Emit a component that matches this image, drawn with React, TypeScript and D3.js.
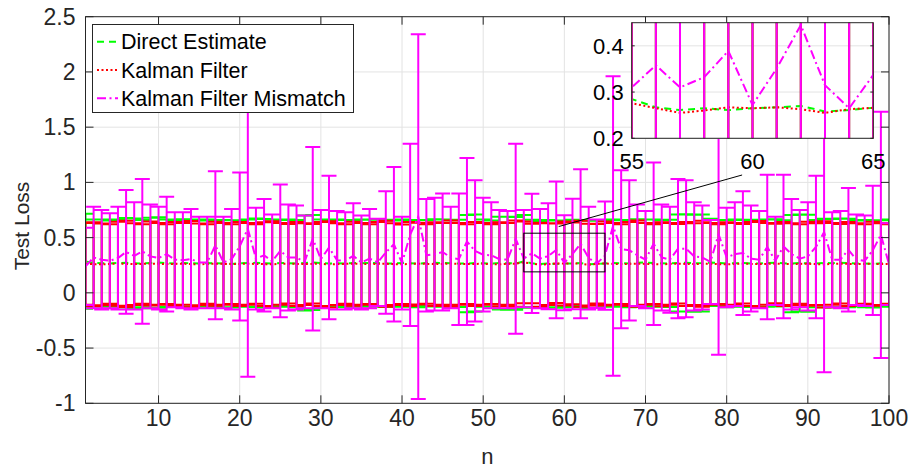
import React from "react";
import * as d3 from "d3";

// ---------------- data ----------------
const nValues = d3.range(1, 101);

const directMean = [
  0.285, 0.27, 0.268, 0.266, 0.27, 0.272, 0.268, 0.265, 0.27, 0.274,
  0.268, 0.266, 0.271, 0.268, 0.265, 0.27, 0.268, 0.265, 0.262, 0.268,
  0.27, 0.272, 0.268, 0.265, 0.27, 0.268, 0.265, 0.27, 0.275, 0.27,
  0.266, 0.268, 0.265, 0.27, 0.268, 0.272, 0.27, 0.266, 0.265, 0.27,
  0.268, 0.265, 0.27, 0.272, 0.27, 0.268, 0.266, 0.265, 0.27, 0.268,
  0.265, 0.27, 0.268, 0.266, 0.285, 0.267, 0.261, 0.265, 0.261, 0.265,
  0.267, 0.27, 0.258, 0.261, 0.266, 0.27, 0.268, 0.265, 0.272, 0.275,
  0.27, 0.268, 0.266, 0.27, 0.272, 0.268, 0.27, 0.275, 0.27, 0.265,
  0.268, 0.27, 0.266, 0.265, 0.27, 0.272, 0.268, 0.265, 0.27, 0.268,
  0.265, 0.27, 0.268, 0.272, 0.27, 0.266, 0.265, 0.262, 0.268, 0.27,
];
const directErr = [
  0.43, 0.395, 0.395, 0.39, 0.395, 0.405, 0.405, 0.395, 0.41, 0.41,
  0.395, 0.39, 0.395, 0.395, 0.39, 0.395, 0.39, 0.395, 0.395, 0.39,
  0.395, 0.4, 0.4, 0.4, 0.39, 0.395, 0.395, 0.43, 0.43, 0.395,
  0.39, 0.395, 0.395, 0.39, 0.395, 0.39, 0.395, 0.395, 0.39, 0.395,
  0.39, 0.395, 0.39, 0.395, 0.395, 0.39, 0.395, 0.44, 0.44, 0.395,
  0.39, 0.42, 0.42, 0.42, 0.42, 0.395, 0.39, 0.395, 0.395, 0.39,
  0.395, 0.39, 0.395, 0.395, 0.39, 0.395, 0.39, 0.395, 0.395, 0.39,
  0.395, 0.39, 0.395, 0.44, 0.44, 0.44, 0.44, 0.395, 0.39, 0.395,
  0.395, 0.39, 0.395, 0.39, 0.395, 0.395, 0.39, 0.44, 0.44, 0.44,
  0.395, 0.4, 0.4, 0.4, 0.4, 0.39, 0.395, 0.395, 0.39, 0.395,
];

const kalmanMean = [
  0.262, 0.26, 0.258, 0.262, 0.264, 0.262, 0.26, 0.262, 0.265, 0.262,
  0.26, 0.262, 0.263, 0.26, 0.258, 0.262, 0.264, 0.262, 0.26, 0.262,
  0.263, 0.262, 0.26, 0.258, 0.262, 0.264, 0.262, 0.26, 0.263, 0.262,
  0.258, 0.26, 0.262, 0.264, 0.262, 0.26, 0.262, 0.263, 0.26, 0.258,
  0.262, 0.264, 0.262, 0.26, 0.262, 0.265, 0.262, 0.26, 0.262, 0.263,
  0.26, 0.258, 0.262, 0.264, 0.276, 0.265, 0.255, 0.26, 0.267, 0.265,
  0.267, 0.263, 0.255, 0.263, 0.266, 0.262, 0.26, 0.262, 0.264, 0.262,
  0.26, 0.258, 0.262, 0.264, 0.262, 0.26, 0.263, 0.262, 0.26, 0.258,
  0.262, 0.264, 0.262, 0.26, 0.262, 0.265, 0.262, 0.26, 0.262, 0.263,
  0.26, 0.258, 0.262, 0.264, 0.262, 0.26, 0.262, 0.263, 0.26, 0.262,
];
const kalmanErr = [
  0.37, 0.38, 0.37, 0.36, 0.38, 0.39, 0.37, 0.36, 0.38, 0.37,
  0.36, 0.38, 0.37, 0.39, 0.37, 0.36, 0.38, 0.37, 0.36, 0.38,
  0.37, 0.36, 0.38, 0.39, 0.37, 0.36, 0.38, 0.37, 0.36, 0.38,
  0.39, 0.37, 0.36, 0.38, 0.37, 0.36, 0.38, 0.39, 0.37, 0.36,
  0.38, 0.37, 0.36, 0.38, 0.37, 0.39, 0.37, 0.36, 0.38, 0.37,
  0.36, 0.38, 0.37, 0.39, 0.37, 0.36, 0.38, 0.37, 0.36, 0.38,
  0.37, 0.39, 0.37, 0.36, 0.38, 0.37, 0.36, 0.38, 0.39, 0.37,
  0.36, 0.38, 0.37, 0.36, 0.38, 0.37, 0.39, 0.37, 0.36, 0.38,
  0.37, 0.36, 0.38, 0.39, 0.37, 0.36, 0.38, 0.37, 0.36, 0.38,
  0.37, 0.39, 0.37, 0.36, 0.38, 0.37, 0.36, 0.38, 0.37, 0.36,
];

const mismatchMean = [
  0.24, 0.32, 0.3, 0.29, 0.315, 0.37, 0.335, 0.375, 0.33, 0.315,
  0.35, 0.3, 0.295, 0.305, 0.275, 0.275, 0.43, 0.275, 0.305, 0.42,
  0.58, 0.31, 0.34, 0.285, 0.38, 0.32, 0.32, 0.28, 0.49, 0.305,
  0.41, 0.295, 0.29, 0.335, 0.275, 0.31, 0.275, 0.365, 0.44, 0.27,
  0.525, 0.69, 0.34, 0.35, 0.37, 0.32, 0.305, 0.465, 0.38, 0.345,
  0.34, 0.305, 0.3, 0.49, 0.31, 0.358, 0.31, 0.332, 0.389, 0.272,
  0.351, 0.445, 0.315, 0.265, 0.337, 0.605, 0.395, 0.385, 0.34, 0.3,
  0.445, 0.32, 0.3, 0.4, 0.4, 0.33, 0.32, 0.28, 0.53, 0.32,
  0.35, 0.36, 0.31, 0.3, 0.415, 0.29, 0.42, 0.35, 0.31, 0.33,
  0.415, 0.55, 0.3, 0.3, 0.39, 0.3, 0.29, 0.385, 0.525, 0.26,
];
const mismatchErr = [
  0.35, 0.46, 0.45, 0.43, 0.465, 0.56, 0.485, 0.655, 0.47, 0.465,
  0.52, 0.43, 0.435, 0.455, 0.415, 0.415, 0.67, 0.415, 0.455, 0.67,
  1.34, 0.46, 0.51, 0.425, 0.6, 0.48, 0.47, 0.42, 0.83, 0.445,
  0.65, 0.445, 0.44, 0.475, 0.425, 0.45, 0.395, 0.555, 0.7, 0.42,
  0.825, 1.65, 0.51, 0.51, 0.53, 0.46, 0.595, 0.755, 0.64, 0.515,
  0.48, 0.445, 0.44, 0.86, 0.44, 0.54, 0.45, 0.48, 0.62, 0.43,
  0.5, 0.675, 0.465, 0.4, 0.49, 1.355, 0.715, 0.635, 0.46, 0.44,
  0.735, 0.48, 0.48, 0.63, 0.62, 0.49, 0.47, 0.38, 1.09, 0.45,
  0.47, 0.56, 0.48, 0.44, 0.655, 0.4, 0.65, 0.5, 0.44, 0.49,
  0.645, 1.27, 0.43, 0.44, 0.56, 0.41, 0.41, 0.585, 1.115, 0.37,
];

const seriesNames = ["Direct Estimate", "Kalman Filter", "Kalman Filter Mismatch"];
const xTicks = [10, 20, 30, 40, 50, 60, 70, 80, 90, 100];
const yTicks = [-1, -0.5, 0, 0.5, 1, 1.5, 2, 2.5];
const yTickLabels = ["-1", "-0.5", "0", "0.5", "1", "1.5", "2", "2.5"];
const insetXTicks = [55, 60, 65];
const insetYTicks = [0.2, 0.3, 0.4];
const insetYTickLabels = ["0.2", "0.3", "0.4"];
const insetXDomain = [55, 65];
const insetYDomain = [0.2, 0.45];
const zoomBoxY = [0.19, 0.54];
const connector = [
  [59.3, 0.6],
  [81.9, 1.067],
];

// ---------------- styling ----------------
const FONT = "'Liberation Sans', Arial, Helvetica, sans-serif";
const AXIS = "#262626";
const GRID = "#e3e3e3";
const COLORS = ["#00ff00", "#ff0000", "#ff00ff"];
const DASHES = ["7,5", "2,2.5", "9,3.5,2,3.5"];
const LW = 2;

type Series = { mean: number[]; err: number[]; color: string; dash: string };

const series: Series[] = [
  { mean: directMean, err: directErr, color: COLORS[0], dash: DASHES[0] },
  { mean: kalmanMean, err: kalmanErr, color: COLORS[1], dash: DASHES[1] },
  { mean: mismatchMean, err: mismatchErr, color: COLORS[2], dash: DASHES[2] },
];

function errorPath(
  s: Series,
  x: d3.ScaleLinear<number, number>,
  y: d3.ScaleLinear<number, number>,
  cap: number
) {
  let d = "";
  nValues.forEach((n, i) => {
    const cx = x(n);
    const lo = y(s.mean[i] - s.err[i]);
    const hi = y(s.mean[i] + s.err[i]);
    d += `M${cx},${lo}V${hi}`;
    if (cap > 0) {
      d += `M${cx - cap},${hi}H${cx + cap}M${cx - cap},${lo}H${cx + cap}`;
    }
  });
  return d;
}

function linePath(
  s: Series,
  x: d3.ScaleLinear<number, number>,
  y: d3.ScaleLinear<number, number>
) {
  const gen = d3
    .line<number>()
    .x((n) => x(n))
    .y((_, i) => y(s.mean[i]));
  return gen(nValues) || "";
}

export default function App() {
  const W = 910;
  const H = 470;
  const L = 85.5,
    R = 889,
    T = 16.7,
    B = 403.3;
  const x = d3.scaleLinear().domain([1, 100]).range([L, R]);
  const y = d3.scaleLinear().domain([-1, 2.5]).range([B, T]);

  const iL = 631.7,
    iR = 873.3,
    iT = 22.7,
    iB = 138.3;
  const xi = d3.scaleLinear().domain(insetXDomain).range([iL, iR]);
  const yi = d3.scaleLinear().domain(insetYDomain).range([iB, iT]);

  const tick = 8;
  const itick = 3;

  return (
    <svg
      width={W}
      height={H}
      style={{ position: "absolute", left: 0, top: 0, background: "#fff" }}
      fontFamily={FONT}
    >
      <defs>
        <clipPath id="mainClip">
          <rect x={L} y={T} width={R - L} height={B - T} />
        </clipPath>
        <clipPath id="insetClip">
          <rect x={iL} y={iT} width={iR - iL} height={iB - iT} />
        </clipPath>
      </defs>
      <rect x={0} y={0} width={W} height={H} fill="#fff" />
      <rect x={L} y={T} width={R - L} height={B - T} fill="#fff" />

      {/* main grid */}
      <g stroke={GRID} strokeWidth={1}>
        {xTicks.map((t) => (
          <line key={"gx" + t} x1={x(t)} x2={x(t)} y1={T} y2={B} />
        ))}
        {yTicks.map((t) => (
          <line key={"gy" + t} x1={L} x2={R} y1={y(t)} y2={y(t)} />
        ))}
      </g>

      {/* main data */}
      <g clipPath="url(#mainClip)">
        {series.map((s, k) => (
          <g key={"s" + k}>
            <path d={linePath(s, x, y)} fill="none" stroke={s.color} strokeWidth={LW} strokeDasharray={s.dash} />
            <path d={errorPath(s, x, y, 7.5)} fill="none" stroke={s.color} strokeWidth={LW} />
          </g>
        ))}
      </g>

      {/* main axes box + ticks */}
      <g stroke={AXIS} strokeWidth={1} fill="none">
        <rect x={L} y={T} width={R - L} height={B - T} />
        {xTicks.map((t) => (
          <g key={"tx" + t}>
            <line x1={x(t)} x2={x(t)} y1={B} y2={B - tick} />
            <line x1={x(t)} x2={x(t)} y1={T} y2={T + tick} />
          </g>
        ))}
        {yTicks.map((t) => (
          <g key={"ty" + t}>
            <line x1={L} x2={L + tick} y1={y(t)} y2={y(t)} />
            <line x1={R} x2={R - tick} y1={y(t)} y2={y(t)} />
          </g>
        ))}
      </g>
      <g fill={AXIS} fontSize={23}>
        {xTicks.map((t) => (
          <text key={"lx" + t} x={x(t)} y={B + 23} textAnchor="middle">
            {t}
          </text>
        ))}
        {yTicks.map((t, i) => (
          <text key={"ly" + t} x={L - 10} y={y(t) + 8} textAnchor="end">
            {yTickLabels[i]}
          </text>
        ))}
      </g>
      <text x={(L + R) / 2} y={464} textAnchor="middle" fontSize={22} fill={AXIS}>
        n
      </text>
      <text
        transform={`translate(29,226) rotate(-90)`}
        textAnchor="middle"
        fontSize={21}
        fill={AXIS}
      >
        Test Loss
      </text>

      {/* zoom box + connector */}
      <rect
        x={x(insetXDomain[0])}
        y={y(zoomBoxY[1])}
        width={x(insetXDomain[1]) - x(insetXDomain[0])}
        height={y(zoomBoxY[0]) - y(zoomBoxY[1])}
        fill="none"
        stroke="#000"
        strokeWidth={1}
      />
      <line
        x1={x(connector[0][0])}
        y1={y(connector[0][1])}
        x2={x(connector[1][0])}
        y2={y(connector[1][1])}
        stroke="#000"
        strokeWidth={1}
      />

      {/* legend */}
      <g>
        <rect x={92.5} y={24.5} width={261} height={88} fill="#fff" stroke={AXIS} strokeWidth={1} />
        {seriesNames.map((name, i) => {
          const cy = 41.7 + i * 28.3;
          return (
            <g key={"lg" + i}>
              <line
                x1={97}
                x2={118}
                y1={cy}
                y2={cy}
                stroke={COLORS[i]}
                strokeWidth={LW}
                strokeDasharray={DASHES[i]}
              />
              <text x={121} y={cy + 7.5} fontSize={21.5} fill="#000">
                {name}
              </text>
            </g>
          );
        })}
      </g>

      {/* inset */}
      <g>
        <rect x={iL} y={iT} width={iR - iL} height={iB - iT} fill="#fff" />
        <g stroke={GRID} strokeWidth={1}>
          {insetXTicks.map((t) => (
            <line key={"igx" + t} x1={xi(t)} x2={xi(t)} y1={iT} y2={iB} />
          ))}
          {insetYTicks.map((t) => (
            <line key={"igy" + t} x1={iL} x2={iR} y1={yi(t)} y2={yi(t)} />
          ))}
        </g>
        <g clipPath="url(#insetClip)">
          {series.map((s, k) => (
            <g key={"is" + k}>
              <path d={linePath(s, xi, yi)} fill="none" stroke={s.color} strokeWidth={LW} strokeDasharray={s.dash} />
              <path d={errorPath(s, xi, yi, 7.5)} fill="none" stroke={s.color} strokeWidth={LW} />
            </g>
          ))}
        </g>
        <g stroke={AXIS} strokeWidth={1} fill="none">
          <rect x={iL} y={iT} width={iR - iL} height={iB - iT} />
          {insetYTicks.map((t) => (
            <g key={"ity" + t}>
              <line x1={iL} x2={iL + itick} y1={yi(t)} y2={yi(t)} />
              <line x1={iR} x2={iR - itick} y1={yi(t)} y2={yi(t)} />
            </g>
          ))}
        </g>
        <g fill="#000" fontSize={22}>
          {insetXTicks.map((t) => (
            <text key={"ilx" + t} x={xi(t)} y={iB + 31} textAnchor="middle">
              {t}
            </text>
          ))}
          {insetYTicks.map((t, i) => (
            <text key={"ily" + t} x={iL - 8} y={yi(t) + 8} textAnchor="end">
              {insetYTickLabels[i]}
            </text>
          ))}
        </g>
      </g>
    </svg>
  );
}
